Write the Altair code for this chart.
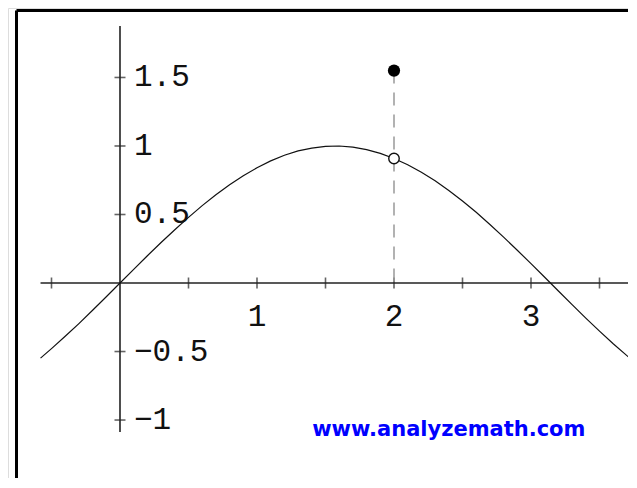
import altair as alt
import pandas as pd

# sine curve samples
curve_x = [-0.58, -0.5, -0.4, -0.3, -0.2, -0.1, 0.0, 0.1, 0.2, 0.3, 0.4, 0.5, 0.6, 0.7, 0.8, 0.9,
           1.0, 1.1, 1.2, 1.3, 1.4, 1.5, 1.6, 1.7, 1.8, 1.9, 2.0, 2.1, 2.2, 2.3, 2.4, 2.5,
           2.6, 2.7, 2.8, 2.9, 3.0, 3.1, 3.2, 3.3, 3.4, 3.5, 3.6, 3.7, 3.77]
curve_y = [-0.548, -0.479, -0.389, -0.296, -0.199, -0.100, 0.0, 0.100, 0.199, 0.296, 0.389, 0.479,
           0.565, 0.644, 0.717, 0.783, 0.841, 0.891, 0.932, 0.964, 0.985, 0.997, 1.000, 0.992,
           0.974, 0.946, 0.909, 0.863, 0.808, 0.746, 0.675, 0.598, 0.516, 0.427, 0.335, 0.239,
           0.141, 0.042, -0.058, -0.158, -0.256, -0.351, -0.443, -0.530, -0.588]

# special points
filled_x, filled_y = [2.0], [1.55]
open_x, open_y = [2.0], [0.909]

# axis ticks and labels
xtick_vals = [-0.5, 0.5, 1.0, 1.5, 2.0, 2.5, 3.0, 3.5]
xlabel_vals = [1, 2, 3]
xlabel_text = ["1", "2", "3"]
ytick_vals = [-1.0, -0.5, 0.5, 1.0, 1.5]
ylabel_text = ["\u22121", "\u22120.5", "0.5", "1", "1.5"]

watermark = "www.analyzemath.com"

XD = [-0.8175, 3.708]
YD = [-1.423, 2.007]
xs = alt.Scale(domain=XD, nice=False, zero=False)
ys = alt.Scale(domain=YD, nice=False, zero=False)

def X(f="x"):
    return alt.X(f"{f}:Q", scale=xs, axis=None)

def Y(f="y"):
    return alt.Y(f"{f}:Q", scale=ys, axis=None)

curve = pd.DataFrame({"x": curve_x, "y": curve_y})
pts_f = pd.DataFrame({"x": filled_x, "y": filled_y})
pts_o = pd.DataFrame({"x": open_x, "y": open_y})
dash = pd.DataFrame({"x": filled_x, "y": filled_y, "y0": [0.0]})
xt = pd.DataFrame({"x": xtick_vals, "y": [0.0] * len(xtick_vals)})
xl = pd.DataFrame({"x": xlabel_vals, "y": [0.0] * len(xlabel_vals), "t": xlabel_text})
yt = pd.DataFrame({"x": [0.0] * len(ytick_vals), "y": ytick_vals, "t": ylabel_text})
axes_h = pd.DataFrame({"x": [-0.58], "x2": [3.708], "y": [0.0]})
axes_v = pd.DataFrame({"x": [0.0], "y": [-1.088], "y2": [1.876]})
wm = pd.DataFrame({"x": [2.4], "y": [-1.073], "t": [watermark]})

AX = "#222222"

frame_top = alt.Chart(pd.DataFrame({"a": [0]})).mark_rule(color="black", strokeWidth=3).encode(
    x=alt.value(8.5), x2=alt.value(640), y=alt.value(2.5))
frame_left = alt.Chart(pd.DataFrame({"a": [0]})).mark_rule(color="black", strokeWidth=3).encode(
    x=alt.value(8.5), y=alt.value(2.5), y2=alt.value(500))

xaxis = alt.Chart(axes_h).mark_rule(color=AX, strokeWidth=1.6).encode(x=X(), x2="x2:Q", y=Y())
yaxis = alt.Chart(axes_v).mark_rule(color=AX, strokeWidth=1.6).encode(x=X(), y=Y(), y2="y2:Q")

xticks = alt.Chart(xt).mark_tick(color=AX, orient="vertical", size=11, thickness=1.6).encode(x=X(), y=Y())
yticks = alt.Chart(yt).mark_tick(color=AX, orient="horizontal", size=11, thickness=1.6).encode(x=X(), y=Y())

xlabels = alt.Chart(xl).mark_text(font="Liberation Mono", fontSize=31, color="#111111",
                                   align="center", baseline="middle", dy=34).encode(
    x=X(), y=Y(), text="t:N")
ylabels = alt.Chart(yt).mark_text(font="Liberation Mono", fontSize=31, color="#111111",
                                   align="left", baseline="middle", dx=14).encode(
    x=X(), y=Y(), text="t:N")

dashed = alt.Chart(dash).mark_rule(color="#999999", strokeWidth=1.5, strokeDash=[13, 9]).encode(
    x=X(), y=Y(), y2="y0:Q")

line = alt.Chart(curve).mark_line(color="#111111", strokeWidth=1.2, clip=True).encode(
    x=X(), y=Y(), order="x:Q")

open_pt = alt.Chart(pts_o).mark_point(shape="circle", size=110, filled=True, fill="white",
                                      stroke="#111111", strokeWidth=1.4, opacity=1).encode(x=X(), y=Y())
filled_pt = alt.Chart(pts_f).mark_point(shape="circle", size=150, filled=True, color="black",
                                        opacity=1).encode(x=X(), y=Y())

wmark = alt.Chart(wm).mark_text(font="DejaVu Sans", fontWeight="bold", fontSize=21, color="#0000ff",
                                align="center", baseline="middle").encode(x=X(), y=Y(), text="t:N")

chart = alt.layer(
    frame_top, frame_left, xaxis, yaxis, xticks, yticks, dashed, line, open_pt, filled_pt,
    xlabels, ylabels, wmark
).properties(
    width=620, height=470, padding=0,
    autosize=alt.AutoSizeParams(type="none")
).configure_view(stroke=None).configure(background="white")

chart.save("out.html", embed_options={"renderer": "svg", "actions": False})
